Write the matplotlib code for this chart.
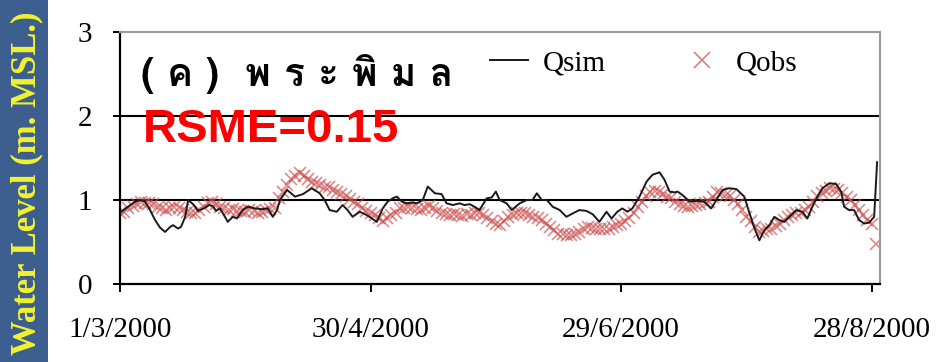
import numpy as np
import pandas as pd
import matplotlib
matplotlib.use("Agg")
import matplotlib.pyplot as plt
from matplotlib.lines import Line2D
from matplotlib.patches import Rectangle

# ── Data: water level at Phra Phimon, 1 Mar – end Aug 2000 ────────────────────

START = pd.Timestamp("2000-03-01")

# simulated level (days since 1/3/2000, m. MSL.)
sim_day = [0.0, 1.9, 3.6, 4.8, 6.0, 7.2, 8.4, 9.6, 10.8, 12.0, 12.7, 13.9, 14.6,
           15.6, 16.3, 17.5, 18.7, 20.1, 21.3, 22.2, 23.0, 23.9, 24.9, 25.8,
           27.0, 28.0, 29.4, 30.6, 32.3, 34.0, 35.4, 36.6, 37.6, 38.3, 40.0,
           41.9, 43.8, 45.9, 47.8, 49.0, 50.2, 51.9, 53.3, 54.5, 55.7, 57.4,
           59.1, 60.3, 61.5, 62.9, 64.1, 65.3, 66.3, 67.5, 68.7, 69.9, 71.1,
           72.5, 73.7, 75.4, 77.0, 78.2, 79.7, 81.3, 82.5, 83.7, 84.9, 86.1,
           87.8, 89.0, 90.0, 90.9, 92.6, 93.8, 95.7, 97.4, 98.8, 99.8, 101.0,
           102.2, 103.6, 105.3, 106.9, 108.4, 110.0, 111.7, 113.2, 114.8,
           116.5, 117.7, 119.1, 120.3, 121.5, 122.7, 124.4, 126.1, 127.5,
           129.2, 130.4, 131.6, 132.8, 133.5, 134.7, 136.4, 138.0, 139.9,
           141.6, 142.8, 144.3, 145.9, 147.6, 149.5, 150.7, 151.9, 153.1,
           154.3, 155.5, 156.7, 157.9, 159.1, 160.3, 162.0, 163.4, 164.6,
           165.8, 167.0, 168.2, 169.9, 171.5, 172.7, 173.4, 174.6, 175.8,
           177.0, 178.2, 179.4, 180.6, 181.3]
sim_val = [0.85, 0.92, 0.98, 1.00, 0.98, 0.88, 0.76, 0.67, 0.62, 0.68, 0.70,
           0.66, 0.68, 0.80, 1.00, 0.95, 0.87, 0.90, 0.94, 0.93, 0.87, 0.90,
           0.82, 0.74, 0.80, 0.78, 0.88, 0.92, 0.90, 0.89, 0.90, 0.80, 0.88,
           1.00, 1.12, 1.04, 1.07, 1.14, 1.08, 1.00, 0.88, 0.86, 0.94, 0.88,
           0.80, 0.86, 0.82, 0.78, 0.74, 0.90, 0.98, 1.02, 1.04, 0.98, 0.96,
           0.97, 0.96, 1.00, 1.16, 1.08, 1.07, 0.96, 0.94, 0.96, 0.94, 0.95,
           0.92, 0.88, 1.02, 1.03, 1.10, 1.00, 0.96, 0.88, 0.96, 1.00, 1.00,
           1.08, 1.00, 1.00, 0.92, 0.88, 0.80, 0.84, 0.88, 0.87, 0.83, 0.74,
           0.86, 0.78, 0.86, 0.90, 0.86, 0.90, 1.04, 1.22, 1.30, 1.33, 1.24,
           1.10, 1.09, 1.10, 1.06, 0.98, 0.99, 0.98, 0.90, 1.00, 1.12, 1.14,
           1.13, 1.04, 0.85, 0.67, 0.52, 0.64, 0.70, 0.80, 0.76, 0.74, 0.80,
           0.88, 0.86, 0.78, 0.92, 1.04, 1.14, 1.20, 1.19, 1.10, 0.92, 0.88,
           0.88, 0.76, 0.72, 0.73, 0.80, 1.45]

# observed daily level (m. MSL.), day 0 = 1/3/2000
obs_val = [0.84, 0.86, 0.90, 0.93, 0.95, 0.98, 0.97, 0.97, 0.95, 0.92,
           0.90, 0.88, 0.91, 0.92, 0.90, 0.88, 0.86, 0.84, 0.84, 0.88,
           0.92, 0.96, 0.98, 0.95, 0.92, 0.90, 0.88, 0.89, 0.87, 0.87,
           0.86, 0.88, 0.87, 0.85, 0.86, 0.88, 0.89, 0.90, 1.02, 1.10,
           1.18, 1.25, 1.29, 1.32, 1.28, 1.25, 1.22, 1.20, 1.18, 1.16,
           1.15, 1.12, 1.10, 1.07, 1.05, 1.01, 0.98, 0.95, 0.91, 0.87,
           0.84, 0.82, 0.78, 0.75, 0.78, 0.82, 0.85, 0.90, 0.91, 0.92,
           0.90, 0.89, 0.88, 0.91, 0.93, 0.90, 0.87, 0.85, 0.83, 0.82,
           0.83, 0.82, 0.81, 0.83, 0.82, 0.84, 0.85, 0.82, 0.78, 0.75,
           0.72, 0.70, 0.75, 0.80, 0.82, 0.84, 0.85, 0.84, 0.82, 0.80,
           0.78, 0.76, 0.72, 0.68, 0.64, 0.60, 0.59, 0.58, 0.58, 0.60,
           0.62, 0.65, 0.68, 0.67, 0.65, 0.65, 0.66, 0.66, 0.68, 0.70,
           0.72, 0.75, 0.78, 0.85, 0.92, 0.98, 1.05, 1.10, 1.11, 1.10,
           1.07, 1.04, 1.02, 0.98, 0.95, 0.93, 0.92, 0.93, 0.94, 0.95,
           0.96, 0.98, 1.04, 1.10, 1.08, 1.06, 1.05, 1.00, 0.95, 0.88,
           0.80, 0.75, 0.68, 0.62, 0.63, 0.65, 0.66, 0.69, 0.72, 0.76,
           0.80, 0.82, 0.84, 0.85, 0.88, 0.92, 0.98, 1.05, 1.08, 1.11,
           1.14, 1.13, 1.12, 1.08, 1.04, 1.00, 0.94, 0.88, 0.82, 0.76,
           0.72, 0.48]

tick_days = [0, 60, 120, 180]
rmse = 0.15

sim_dates = START + pd.to_timedelta(np.array(sim_day), unit="D")
obs_dates = START + pd.to_timedelta(np.arange(len(obs_val)), unit="D")
tick_dates = [START + pd.Timedelta(days=d) for d in tick_days]

# ── Figure ────────────────────────────────────────────────────────────────────

SERIF = "Liberation Serif"
OBS_COLOR = "#cc4c4c"

fig = plt.figure(figsize=(9.43, 3.62), dpi=100)
ax = fig.add_axes([0.1273, 0.2155, 0.8059, 0.6961])

# blue side strip carrying the y-axis title
fig.patches.append(Rectangle((0, 0), 48 / 943, 1, transform=fig.transFigure,
                             facecolor="#3c5f90", edgecolor="none", zorder=0))
fig.text(0.0286, 0.495, "Water Level (m. MSL.)", rotation=90,
         ha="center", va="center", color="#f2f22e", family=SERIF,
         weight="bold", fontsize=25)

ax.plot(obs_dates, obs_val, linestyle="none", marker="x", ms=8.5, mew=1.2,
        color=OBS_COLOR, alpha=0.65, zorder=2)
ax.plot(sim_dates, sim_val, color="#1a1a1a", lw=1.4, zorder=3)

ax.set_ylim(0, 3)
ax.set_yticks([0, 1, 2, 3])
ax.set_xlim(START, START + pd.Timedelta(days=182))
ax.set_xticks(tick_dates)
ax.set_xticklabels([f"{d.day}/{d.month}/{d.year}" for d in tick_dates])

for y in (1, 2):
    ax.axhline(y, color="black", lw=1.5, zorder=1)

for side in ("left", "bottom"):
    ax.spines[side].set_color("black")
    ax.spines[side].set_linewidth(1.6)
for side in ("top", "right"):
    ax.spines[side].set_color("#9a9a9a")
    ax.spines[side].set_linewidth(1.5)

ax.tick_params(axis="y", direction="out", length=5, width=1.4, pad=15,
               labelsize=21)
ax.tick_params(axis="x", direction="out", length=6, width=1.4, pad=18,
               labelsize=21)
for lab in ax.get_xticklabels() + ax.get_yticklabels():
    lab.set_family(SERIF)

# station title and error score
ax.text(0.027, 0.835, "( ค )  พ ร ะ พิ ม ล", transform=ax.transAxes,
        family="Loma", weight="bold", fontsize=28, ha="left", va="center")
ax.text(0.03, 0.61, f"RSME={rmse:.2f}", transform=ax.transAxes,
        family="Liberation Sans", weight="bold", fontsize=34, color="#ff0000",
        ha="left", va="center")

handles = [Line2D([], [], color="#1a1a1a", lw=1.4),
           Line2D([], [], linestyle="none", marker="x", ms=11, mew=1.2,
                  color=OBS_COLOR, alpha=0.7)]
ax.legend(handles, ["Qsim", "Qobs"], ncol=2, frameon=False,
          loc="center left", bbox_to_anchor=(0.472, 0.875),
          prop={"family": SERIF, "size": 21}, handlelength=1.3,
          handletextpad=0.5, columnspacing=2.65, borderaxespad=0)

fig.savefig("out.png", dpi=100)
